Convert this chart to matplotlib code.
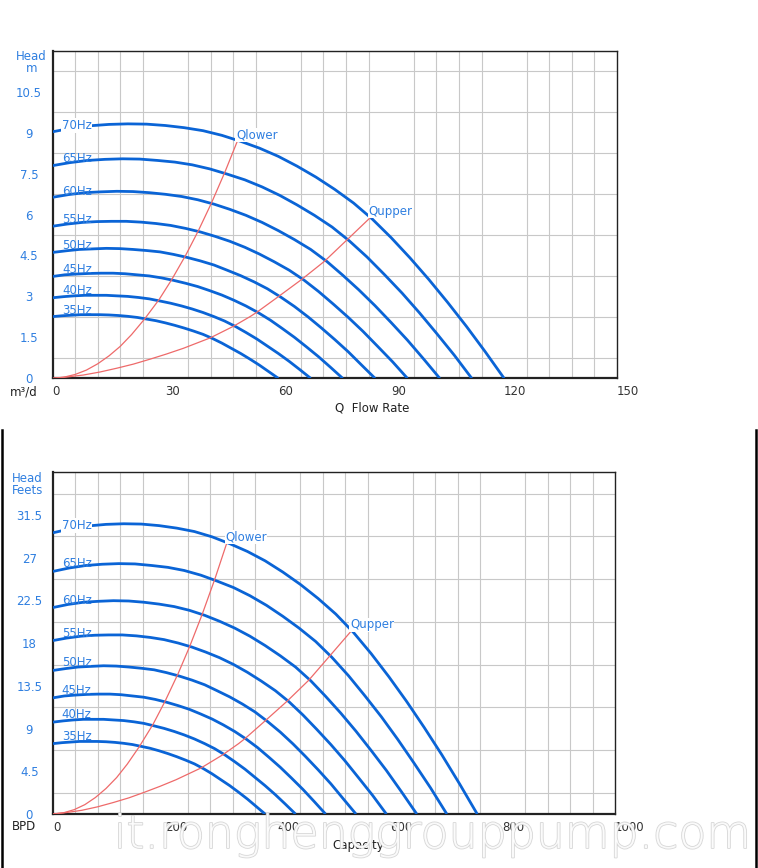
import matplotlib
matplotlib.use('Agg')
import matplotlib.pyplot as plt
import matplotlib.patheffects as pe
from matplotlib.lines import Line2D
import numpy as np

W, H = 758, 868

# head curves (Q in m3/d, H in m)
q_35 = [0, 2.5, 5, 7.5, 10, 12.5, 15, 17.5, 20, 22.5, 25, 27.5, 30,
        32.5, 35, 37.5, 40, 42.5, 45, 47.5, 50, 52.5, 55, 57.5, 60]
h_35 = [2.26, 2.29, 2.31, 2.33, 2.33, 2.33, 2.32, 2.30, 2.27, 2.23, 2.17, 2.11, 2.03,
        1.94, 1.84, 1.73, 1.61, 1.46, 1.29, 1.10, 0.91, 0.70, 0.48, 0.24, 0]
q_40 = [0, 2.9, 5.7, 8.6, 11.4, 14.3, 17.1, 20.0, 22.9, 25.7, 28.6, 31.4, 34.3,
        37.1, 40.0, 42.9, 45.7, 48.6, 51.4, 54.3, 57.1, 60.0, 62.9, 65.7, 68.6]
h_40 = [2.95, 2.99, 3.02, 3.04, 3.04, 3.04, 3.02, 3.00, 2.96, 2.91, 2.83, 2.75, 2.65,
        2.54, 2.41, 2.26, 2.10, 1.90, 1.68, 1.44, 1.18, 0.91, 0.62, 0.32, 0]
q_45 = [0, 3.2, 6.4, 9.6, 12.9, 16.1, 19.3, 22.5, 25.7, 28.9, 32.1, 35.4, 38.6,
        41.8, 45.0, 48.2, 51.4, 54.6, 57.9, 61.1, 64.3, 67.5, 70.7, 73.9, 77.1]
h_45 = [3.73, 3.79, 3.82, 3.84, 3.85, 3.85, 3.83, 3.79, 3.75, 3.68, 3.59, 3.48, 3.36,
        3.21, 3.05, 2.86, 2.65, 2.41, 2.13, 1.82, 1.50, 1.15, 0.79, 0.40, 0]
q_50 = [0, 3.6, 7.1, 10.7, 14.3, 17.9, 21.4, 25.0, 28.6, 32.1, 35.7, 39.3, 42.9,
        46.4, 50.0, 53.6, 57.1, 60.7, 64.3, 67.9, 71.4, 75.0, 78.6, 82.1, 85.7]
h_50 = [4.61, 4.67, 4.72, 4.74, 4.76, 4.75, 4.72, 4.68, 4.63, 4.54, 4.43, 4.30, 4.15,
        3.96, 3.76, 3.53, 3.28, 2.97, 2.63, 2.25, 1.85, 1.42, 0.97, 0.49, 0]
q_55 = [0, 3.9, 7.9, 11.8, 15.7, 19.6, 23.6, 27.5, 31.4, 35.4, 39.3, 43.2, 47.1,
        51.1, 55.0, 58.9, 62.9, 66.8, 70.7, 74.6, 78.6, 82.5, 86.4, 90.4, 94.3]
h_55 = [5.57, 5.65, 5.71, 5.74, 5.75, 5.75, 5.72, 5.67, 5.60, 5.49, 5.36, 5.20, 5.02,
        4.80, 4.55, 4.27, 3.96, 3.60, 3.18, 2.72, 2.23, 1.72, 1.17, 0.60, 0]
q_60 = [0, 4.3, 8.6, 12.9, 17.1, 21.4, 25.7, 30.0, 34.3, 38.6, 42.9, 47.1, 51.4,
        55.7, 60.0, 64.3, 68.6, 72.9, 77.1, 81.4, 85.7, 90.0, 94.3, 98.6, 102.9]
h_60 = [6.63, 6.73, 6.80, 6.83, 6.85, 6.84, 6.80, 6.74, 6.66, 6.54, 6.38, 6.19, 5.97,
        5.71, 5.41, 5.08, 4.72, 4.28, 3.78, 3.24, 2.66, 2.04, 1.40, 0.71, 0]
q_65 = [0, 4.6, 9.3, 13.9, 18.6, 23.2, 27.9, 32.5, 37.1, 41.8, 46.4, 51.1, 55.7,
        60.4, 65.0, 69.6, 74.3, 78.9, 83.6, 88.2, 92.9, 97.5, 102.1, 106.8, 111.4]
h_65 = [7.79, 7.90, 7.98, 8.02, 8.04, 8.03, 7.98, 7.92, 7.82, 7.67, 7.48, 7.27, 7.01,
        6.70, 6.35, 5.97, 5.54, 5.03, 4.44, 3.80, 3.12, 2.40, 1.64, 0.84, 0]
q_70 = [0, 5, 10, 15, 20, 25, 30, 35, 40, 45, 50, 55, 60,
        65, 70, 75, 80, 85, 90, 95, 100, 105, 110, 115, 120]
h_70 = [9.03, 9.16, 9.25, 9.30, 9.32, 9.31, 9.26, 9.18, 9.07, 8.90, 8.68, 8.43, 8.13,
        7.77, 7.37, 6.92, 6.42, 5.83, 5.15, 4.41, 3.62, 2.78, 1.90, 0.97, 0]

freq_names = ['35Hz', '40Hz', '45Hz', '50Hz', '55Hz', '60Hz', '65Hz', '70Hz']
freq_label_h = [2.50, 3.21, 3.97, 4.85, 5.81, 6.85, 8.05, 9.26]

# operating range limits
q_lower = [0, 3, 6, 9, 12, 15, 18, 21, 24.4, 28.3, 31.7, 35.4, 38.7, 42.2, 45.8, 49.1]
h_lower = [0, 0.04, 0.14, 0.30, 0.53, 0.82, 1.17, 1.60, 2.16, 2.88, 3.62, 4.51, 5.39,
           6.41, 7.55, 8.68]
q_upper = [0, 4.0, 8.2, 12.6, 17.1, 21.5, 25.9, 30.3, 34.8, 41.9, 48.0, 52.5, 54.3,
           60.0, 66.2, 72.3, 78.4, 84.4]
h_upper = [0, 0.05, 0.12, 0.23, 0.37, 0.52, 0.70, 0.89, 1.10, 1.48, 1.90, 2.26, 2.42,
           2.99, 3.62, 4.29, 5.09, 5.88]

# unit conversions for the lower chart
M3D_TO_BPD = 6.29
M_TO_FT = 3.281

top_xticks = [0, 30, 60, 90, 120, 150]
top_yticks = [0, 1.5, 3, 4.5, 6, 7.5, 9, 10.5]
top_ylabels = ['0', '1.5', '3', '4.5', '6', '7.5', '9', '10.5']
bot_xticks = [0, 200, 400, 600, 800, 1000]
bot_yticks = [0, 4.5, 9, 13.5, 18, 22.5, 27, 31.5]
bot_ylabels = ['0', '4.5', '9', '13.5', '18', '22.5', '27', '31.5']

curves_q = [q_35, q_40, q_45, q_50, q_55, q_60, q_65, q_70]
curves_h = [h_35, h_40, h_45, h_50, h_55, h_60, h_65, h_70]

BLUE = '#0a64d6'
TXT_BLUE = '#2f7fe0'
RED = '#ee6a6a'
FS = 8.5


def fx(px):
    return px / W


def fy(py):
    return 1 - py / H


def draw(ax, sx, sy, xmax, ymax, xstep, ystep, xticks, yticks, ylabels):
    ax.set_xlim(0, xmax)
    ax.set_ylim(0, ymax)
    ax.set_xticks(np.arange(0, xmax + 1e-6, xstep), minor=True)
    ax.set_yticks(np.arange(0, ymax + 1e-6, ystep), minor=True)
    ax.grid(which='minor', color='#c8c8c8', lw=0.8)
    ax.grid(which='major', visible=False)
    ax.set_axisbelow(True)
    ax.set_xticks(xticks, [str(t) for t in xticks])
    ax.set_yticks(yticks, ylabels)
    ax.tick_params(which='both', length=0)
    ax.tick_params(axis='y', labelcolor=TXT_BLUE, labelsize=FS, pad=17)
    ax.tick_params(axis='x', labelcolor='#333333', labelsize=FS, pad=5)
    for lab in ax.get_yticklabels():
        lab.set_horizontalalignment('center')
    for lab in ax.get_xticklabels():
        lab.set_horizontalalignment('left')
    for s in ['left', 'bottom']:
        ax.spines[s].set_linewidth(1.6)
        ax.spines[s].set_color('#222222')
    for s in ['top', 'right']:
        ax.spines[s].set_linewidth(1.0)
        ax.spines[s].set_color('#222222')

    for q, h, name, lh in zip(curves_q, curves_h, freq_names, freq_label_h):
        ax.plot(np.array(q) * sx, np.array(h) * sy, color=BLUE, lw=2.0, zorder=3,
                solid_capstyle='butt', solid_joinstyle='round')
        kw = {}
        if name == '70Hz':
            kw['bbox'] = dict(facecolor='white', edgecolor='none', pad=0.5)
        ax.text(2.5 * sx, lh * sy, name, color=TXT_BLUE, fontsize=FS,
                ha='left', va='center', zorder=5, **kw)

    ax.plot(np.array(q_lower) * sx, np.array(h_lower) * sy, color=RED, lw=0.9, zorder=4)
    ax.plot(np.array(q_upper) * sx, np.array(h_upper) * sy, color=RED, lw=0.9, zorder=4)
    ax.annotate('Qlower', (q_lower[-1] * sx, h_lower[-1] * sy), xytext=(-1, 4.5),
                textcoords='offset points', color=TXT_BLUE, fontsize=FS,
                ha='left', va='center', zorder=6,
                bbox=dict(facecolor='white', edgecolor='none', pad=0.3))
    ax.annotate('Qupper', (q_upper[-1] * sx, h_upper[-1] * sy), xytext=(-1, 4.5),
                textcoords='offset points', color=TXT_BLUE, fontsize=FS,
                ha='left', va='center', zorder=6,
                bbox=dict(facecolor='white', edgecolor='none', pad=0.3))


fig = plt.figure(figsize=(W / 100, H / 100), dpi=100)
fig.patch.set_facecolor('white')

ax1 = fig.add_axes([fx(52.5), fy(378.3), (617 - 52.5) / W, (378.3 - 50.7) / H])
draw(ax1, 1.0, 1.0, 150, 12, 6, 0.75, top_xticks, top_yticks, top_ylabels)

ax2 = fig.add_axes([fx(53), fy(814), (615 - 53) / W, (814 - 472.3) / H])
draw(ax2, M3D_TO_BPD, M_TO_FT, 1000, 36, 40, 2.25, bot_xticks, bot_yticks, bot_ylabels)

# axis captions
fig.text(fx(31), fy(57), 'Head', color=TXT_BLUE, fontsize=FS, ha='center', va='center')
fig.text(fx(32), fy(68), 'm', color=TXT_BLUE, fontsize=FS, ha='center', va='center')
fig.text(fx(24), fy(391.5), 'm³/d', color='#222222', fontsize=FS, ha='center', va='center')
fig.text(fx(372), fy(408), 'Q  Flow Rate', color='#222222', fontsize=FS, ha='center', va='center')

fig.text(fx(27.5), fy(479), 'Head', color=TXT_BLUE, fontsize=FS, ha='center', va='center')
fig.text(fx(27.5), fy(490), 'Feets', color=TXT_BLUE, fontsize=FS, ha='center', va='center')
fig.text(fx(24), fy(827), 'BPD', color='#222222', fontsize=FS, ha='center', va='center')
fig.text(fx(358), fy(846), 'Capacity', color='#222222', fontsize=FS, ha='center', va='center')

# frame around the lower picture
fig.add_artist(Line2D([fx(1.5), fx(1.5)], [fy(430), fy(868)], color='black', lw=1.8))
fig.add_artist(Line2D([fx(756), fx(756)], [fy(430), fy(868)], color='black', lw=1.8))

# watermark
fig.text(fx(433), fy(835), 'it.ronghenggrouppump.com', fontsize=33, color='white',
         family='DejaVu Sans', fontweight='light', ha='center', va='center', alpha=0.85,
         zorder=20, path_effects=[pe.withStroke(linewidth=1.2, foreground='#d0d0d0')])

fig.savefig('out.png', dpi=100)
